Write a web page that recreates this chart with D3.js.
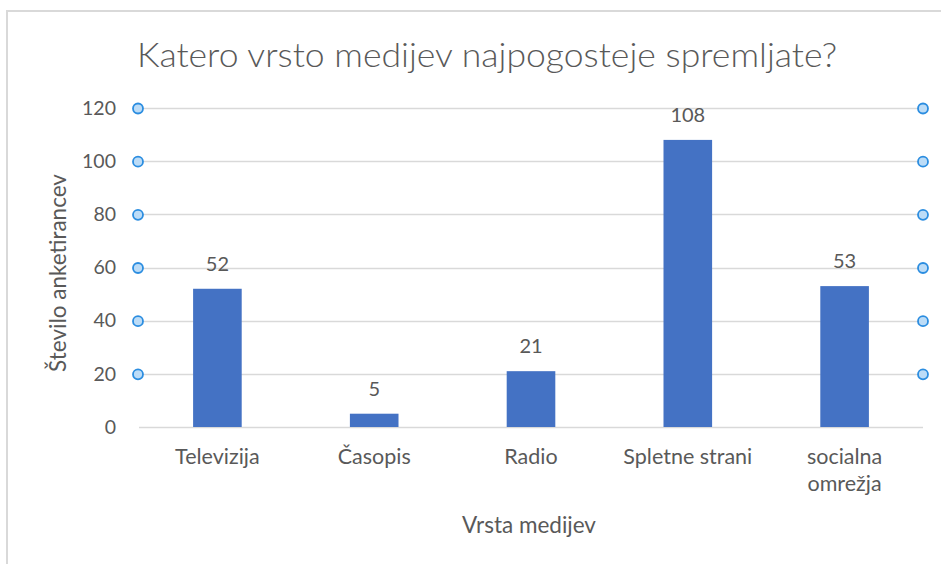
<!DOCTYPE html>
<html>
<head>
<meta charset="utf-8">
<script src="https://cdn.jsdelivr.net/npm/d3@7"></script>
<style>
  body { margin: 0; background: #fff; }
  text { font-family: Lato, "Open Sans", sans-serif; fill: #595959; }
</style>
</head>
<body>
<svg width="941" height="564"></svg>
<script>
var categories = ["Televizija", "Časopis", "Radio", "Spletne strani", "socialna omrežja"];
var values = [52, 5, 21, 108, 53];
var yTicks = [0, 20, 40, 60, 80, 100, 120];

var svg = d3.select("svg"),
    width = +svg.attr("width"),
    height = +svg.attr("height");

// chart frame (only top and left edge are visible in the picture)
svg.append("path")
    .attr("d", "M7,564 L7,11 L941,11")
    .attr("fill", "none")
    .attr("stroke", "#d9d9d9")
    .attr("stroke-width", 2);

var margin = {left: 139, right: 18, top: 108, bottom: 137};

var x = d3.scaleBand()
    .domain(categories)
    .range([margin.left, width - margin.right])
    .paddingInner(0.69)
    .paddingOuter(0.345);

var y = d3.scaleLinear()
    .domain([0, 120])
    .range([height - margin.bottom, margin.top]);

// gridlines
svg.append("g")
  .selectAll("line")
  .data(yTicks)
  .enter().append("line")
    .attr("x1", margin.left)
    .attr("x2", width - margin.right)
    .attr("y1", function(d) { return Math.round(y(d)) + 0.5; })
    .attr("y2", function(d) { return Math.round(y(d)) + 0.5; })
    .attr("stroke", "#d9d9d9")
    .attr("stroke-width", 1.5);

// y tick labels
var yAxis = svg.append("g")
    .attr("transform", "translate(" + (margin.left - 6) + ",0)")
    .call(d3.axisLeft(y).tickValues(yTicks).tickSize(0).tickPadding(17));
yAxis.select(".domain").remove();
yAxis.selectAll("text")
    .style("font-size", "19.5px")
    .attr("fill", "#595959");

// bars
svg.append("g")
  .selectAll("rect")
  .data(values)
  .enter().append("rect")
    .attr("x", function(d, i) { return x(categories[i]); })
    .attr("y", function(d) { return y(d); })
    .attr("width", x.bandwidth())
    .attr("height", function(d) { return y(0) - y(d); })
    .attr("fill", "#4472c4");

// data labels
svg.append("g")
  .selectAll("text")
  .data(values)
  .enter().append("text")
    .attr("x", function(d, i) { return x(categories[i]) + x.bandwidth() / 2; })
    .attr("y", function(d) { return y(d) - 18; })
    .attr("text-anchor", "middle")
    .style("font-size", "20px")
    .text(function(d) { return d; });

// selection handles at gridline ends
var handles = yTicks.filter(function(d) { return d > 0; });
[margin.left - 1, width - margin.right].forEach(function(cx) {
  svg.append("g")
    .selectAll("circle")
    .data(handles)
    .enter().append("circle")
      .attr("cx", cx)
      .attr("cy", function(d) { return y(d) + 0.5; })
      .attr("r", 5)
      .attr("fill", "#bcdcf7")
      .attr("stroke", "#2b8de0")
      .attr("stroke-width", 1.8);
});

// category labels (wrap the last one)
var catLines = {"socialna omrežja": ["socialna", "omrežja"]};
var xl = svg.append("g")
  .selectAll("text")
  .data(categories)
  .enter().append("text")
    .attr("x", function(d) { return x(d) + x.bandwidth() / 2; })
    .attr("y", 464)
    .attr("text-anchor", "middle")
    .style("font-size", "21.5px");
xl.each(function(d) {
  var lines = catLines[d] || [d];
  var t = d3.select(this);
  lines.forEach(function(l, j) {
    t.append("tspan")
      .attr("x", t.attr("x"))
      .attr("dy", j === 0 ? 0 : 27)
      .text(l);
  });
});

// axis titles
svg.append("text")
    .attr("x", 529)
    .attr("y", 533)
    .attr("text-anchor", "middle")
    .style("font-size", "22.5px")
    .text("Vrsta medijev");

svg.append("text")
    .attr("transform", "translate(66,273) rotate(-90)")
    .attr("text-anchor", "middle")
    .style("font-size", "22.5px")
    .text("Število anketirancev");

// title
svg.append("text")
    .attr("x", 487)
    .attr("y", 67)
    .attr("text-anchor", "middle")
    .attr("textLength", 700)
    .attr("lengthAdjust", "spacingAndGlyphs")
    .style("font-size", "34px")
    .style("font-weight", 300)
    .text("Katero vrsto medijev najpogosteje spremljate?");
</script>
</body>
</html>
